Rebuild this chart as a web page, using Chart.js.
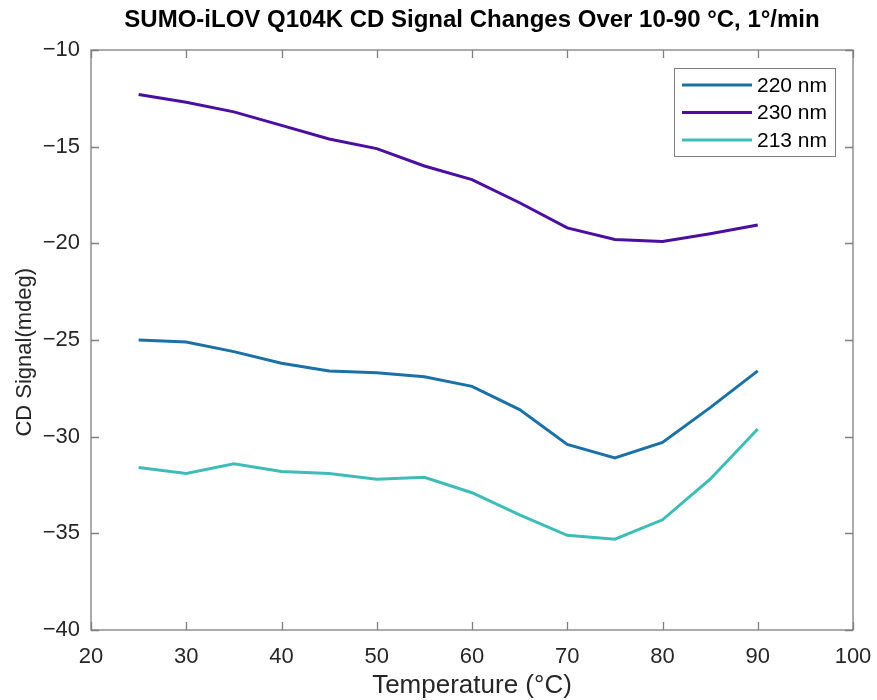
<!DOCTYPE html>
<html>
<head>
<meta charset="utf-8">
<script src="https://cdn.jsdelivr.net/npm/chart.js@4/dist/chart.umd.min.js"></script>
<style>
  html, body { margin: 0; padding: 0; background: #ffffff; }
  #wrap { width: 877px; height: 700px; }
</style>
</head>
<body>
<div id="wrap"><canvas id="c" width="877" height="700"></canvas></div>
<script>
const temperatures = [25, 30, 35, 40, 45, 50, 55, 60, 65, 70, 75, 80, 85, 90];
const nm220 = [-25.0, -25.1, -25.6, -26.2, -26.6, -26.7, -26.9, -27.4, -28.6, -30.4, -31.1, -30.3, -28.5, -26.6];
const nm230 = [-12.3, -12.7, -13.2, -13.9, -14.6, -15.1, -16.0, -16.7, -17.9, -19.2, -19.8, -19.9, -19.5, -19.05];
const nm213 = [-31.6, -31.9, -31.4, -31.8, -31.9, -32.2, -32.1, -32.9, -34.05, -35.1, -35.3, -34.3, -32.2, -29.6];
const seriesLabels = ['220 nm', '230 nm', '213 nm'];
const xTicks = [20, 30, 40, 50, 60, 70, 80, 90, 100];
const yTicks = [-10, -15, -20, -25, -30, -35, -40];
const chartTitle = 'SUMO-iLOV Q104K CD Signal Changes Over 10-90 °C, 1°/min';
const xTitle = 'Temperature (°C)';
const yTitle = 'CD Signal(mdeg)';

const colors = ['#1b71a6', '#4a0fa0', '#3ebdb8'];
const seriesValues = [nm220, nm230, nm213];
const FONT = '"Liberation Sans", Arial, sans-serif';

const datasets = seriesValues.map((vals, i) => ({
  label: seriesLabels[i],
  data: temperatures.map((t, j) => ({ x: t, y: vals[j] })),
  borderColor: colors[i],
  backgroundColor: colors[i],
  borderWidth: 3,
  pointRadius: 0,
  tension: 0,
  fill: false
}));

const boxPlugin = {
  id: 'boxTicks',
  afterDatasetsDraw(chart) {
    const ctx = chart.ctx;
    const a = chart.chartArea;
    const xs = chart.scales.x, ys = chart.scales.y;
    ctx.save();
    ctx.strokeStyle = '#7f7f7f';
    ctx.lineWidth = 1.3;
    ctx.strokeRect(a.left, a.top, a.right - a.left, a.bottom - a.top);
    const tl = 8;
    ctx.beginPath();
    xTicks.forEach(v => {
      const px = Math.round(xs.getPixelForValue(v)) + 0.5;
      ctx.moveTo(px, a.bottom); ctx.lineTo(px, a.bottom - tl);
      ctx.moveTo(px, a.top); ctx.lineTo(px, a.top + tl);
    });
    yTicks.forEach(v => {
      const py = Math.round(ys.getPixelForValue(v)) + 0.5;
      ctx.moveTo(a.left, py); ctx.lineTo(a.left + tl, py);
      ctx.moveTo(a.right, py); ctx.lineTo(a.right - tl, py);
    });
    ctx.stroke();

    // legend box
    const lx = 674, ly = 68, lw = 161, lh = 88;
    ctx.fillStyle = '#ffffff';
    ctx.fillRect(lx, ly, lw, lh);
    ctx.strokeStyle = '#7f7f7f';
    ctx.lineWidth = 1;
    ctx.strokeRect(lx + 0.5, ly + 0.5, lw, lh);
    ctx.font = '21px ' + FONT;
    ctx.textBaseline = 'middle';
    ctx.textAlign = 'left';
    chart.data.datasets.forEach((ds, i) => {
      const yy = ly + 17 + i * 27.5;
      ctx.strokeStyle = ds.borderColor;
      ctx.lineWidth = 3;
      ctx.beginPath();
      ctx.moveTo(682, yy); ctx.lineTo(752, yy);
      ctx.stroke();
      ctx.fillStyle = '#000000';
      ctx.fillText(ds.label, 757, yy + 1);
    });
    ctx.restore();
  }
};

const fmtTick = v => String(v).replace('-', '\u2212');
const noHPad = s => { s.paddingLeft = 0; s.paddingRight = 0; };

new Chart(document.getElementById('c'), {
  type: 'line',
  data: { datasets },
  plugins: [boxPlugin],
  options: {
    responsive: false,
    animation: false,
    devicePixelRatio: 1,
    layout: { padding: { left: 0, right: 24, top: 0, bottom: 0 } },
    plugins: {
      legend: { display: false },
      tooltip: { enabled: false },
      title: { display: false }
    },
    scales: {
      x: {
        type: 'linear',
        min: 20, max: 100,
        afterBuildTicks(scale) { scale.ticks = xTicks.map(v => ({ value: v })); },
        afterFit(scale) { scale.height = 70; noHPad(scale); },
        grid: { display: false, drawTicks: false },
        border: { display: false },
        ticks: {
          color: '#262626',
          padding: 14,
          font: { family: FONT, size: 22 },
          maxRotation: 0,
          callback: fmtTick
        },
        title: {
          display: true,
          text: xTitle,
          color: '#262626',
          font: { family: FONT, size: 26 },
          padding: { top: 0, bottom: -1 }
        }
      },
      xTop: {
        type: 'linear',
        position: 'top',
        min: 20, max: 100,
        afterFit(scale) { scale.height = 50; noHPad(scale); },
        grid: { display: false, drawTicks: false },
        border: { display: false },
        ticks: { display: false },
        title: {
          display: true,
          text: chartTitle,
          color: '#000000',
          font: { family: FONT, size: 24, weight: 'bold' },
          padding: { top: 6, bottom: 0 }
        }
      },
      y: {
        type: 'linear',
        min: -40, max: -10,
        afterBuildTicks(scale) { scale.ticks = yTicks.map(v => ({ value: v })); },
        afterFit(scale) { scale.width = 91; scale.paddingTop = 0; scale.paddingBottom = 0; },
        grid: { display: false, drawTicks: false },
        border: { display: false },
        ticks: {
          color: '#262626',
          padding: 11,
          font: { family: FONT, size: 22 },
          callback: fmtTick
        },
        title: {
          display: true,
          text: yTitle + '    ',
          color: '#262626',
          font: { family: FONT, size: 22 },
          padding: { top: 12, bottom: 0 }
        }
      }
    }
  }
});
</script>
</body>
</html>
